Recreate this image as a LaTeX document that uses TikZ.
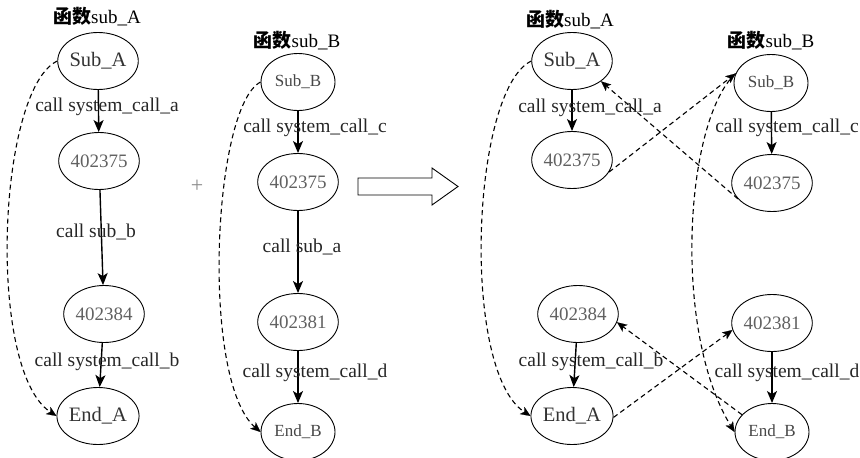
\documentclass[tikz,border=0pt]{standalone}
\usepackage{fontspec}
\setmainfont{Liberation Serif}
\newfontfamily\cjk{Noto Sans CJK SC}
\usetikzlibrary{arrows.meta,shapes.geometric}
\begin{document}
\begin{tikzpicture}[x=1pt,y=-1pt,
  st/.style={ellipse,draw=black,line width=0.9pt,minimum width=74pt,minimum height=57pt,inner sep=0pt},
  num/.style={st,text=black!62,font=\fontsize{19}{19}\selectfont},
  nameA/.style={st,text=black!80,font=\fontsize{20.5}{20}\selectfont},
  nameB/.style={st,text=black!72,font=\fontsize{17}{17}\selectfont},
  lab/.style={text=black!85,font=\fontsize{19.5}{20}\selectfont,inner sep=0pt},
  ttl/.style={font=\fontsize{19}{20}\selectfont,inner sep=0pt},
  arr/.style={-{Stealth[length=12pt,width=10pt,inset=3pt]},line width=1.4pt},
  darr/.style={-{Stealth[length=10pt,width=8.5pt,inset=2.5pt,line width=0.1pt]},dash pattern=on 5pt off 3.5pt,line width=1.1pt},
]
\useasboundingbox (0,0) rectangle (860,458);

% ---------- left graph A ----------
\node[ttl] (tA) at (97,17) {{\cjk\bfseries 函数}sub\_A};
\node[nameA] (A1) at (98,61) {Sub\_A};
\node[num] (A2) at (99,161) {402375};
\node[num] (A3) at (104,314) {402384};
\node[nameA] (A4) at (98,416) {End\_A};
\draw[arr] (A1) -- (A2);
\draw[arr] (A2) -- (A3);
\draw[arr] (A3) -- (A4);
\draw[darr] (A1.west) .. controls +(-60,29) and +(-70,-46) .. (A4.west);
\node[lab] (lA1) at (107,107) {call system\_call\_a};
\node[lab] (lA2) at (96,232) {call sub\_b};
\node[lab] (lA3) at (107,362) {call system\_call\_b};

% plus
\node[text=black!45,font=\fontsize{22}{22}\selectfont] (plus) at (197,186) {+};

% ---------- middle graph B ----------
\node[ttl] (tB) at (297,41) {{\cjk\bfseries 函数}sub\_B};
\node[nameB] (B1) at (298,82) {Sub\_B};
\node[num] (B2) at (298,182) {402375};
\node[num] (B3) at (298,322) {402381};
\node[nameB] (B4) at (298,432) {End\_B};
\draw[arr] (B1) -- (B2);
\draw[arr] (B2) -- (B3);
\draw[arr] (B3) -- (B4);
\draw[darr] (B1.west) .. controls +(-48,25) and +(-60,-52) .. (B4.west);
\node[lab] (lB1) at (315,128) {call system\_call\_c};
\node[lab] (lB2) at (302,247) {call sub\_a};
\node[lab] (lB3) at (315,373) {call system\_call\_d};

% big hollow arrow
\draw[line width=0.9pt,fill=white] (358,178) -- (432,178) -- (432,168) -- (458,186.5)
  -- (432,205) -- (432,195) -- (358,195) -- cycle;

% ---------- right: merged ----------
\node[ttl] (tR) at (570,20) {{\cjk\bfseries 函数}sub\_A};
\node[nameA] (R1) at (572,61) {Sub\_A};
\node[num] (R2) at (572,160) {402375};
\node[num] (R3) at (578,314) {402384};
\node[nameA] (R4) at (572,416) {End\_A};

\node[ttl] (tS) at (771,41) {{\cjk\bfseries 函数}sub\_B};
\node[nameB] (S1) at (771,83) {Sub\_B};
\node[num] (S2) at (772,183) {402375};
\node[num] (S3) at (772,323) {402381};
\node[nameB] (S4) at (772,432) {End\_B};

\draw[arr] (R1) -- (R2);
\draw[arr] (R3) -- (R4);
\draw[arr] (S1) -- (S2);
\draw[arr] (S3) -- (S4);

\draw[darr] (R1.west) .. controls +(-60,29) and +(-70,-46) .. (R4.west);
\draw[darr] (S1.165) .. controls (685,120) and (672,330) .. (S4.west);
\draw[darr] (R2.-18) -- (S1.165);
\draw[darr] (S2.205) -- (R1.-35);
\draw[darr] (R4.-2) -- (S3.190);
\draw[darr] (S4.150) -- (R3.-12);

\node[lab] (lR1) at (590,108) {call system\_call\_a};
\node[lab] (lS1) at (787,128) {call system\_call\_c};
\node[lab] (lR3) at (591,362) {call system\_call\_b};
\node[lab] (lS3) at (787,373) {call system\_call\_d};
\end{tikzpicture}
\end{document}
